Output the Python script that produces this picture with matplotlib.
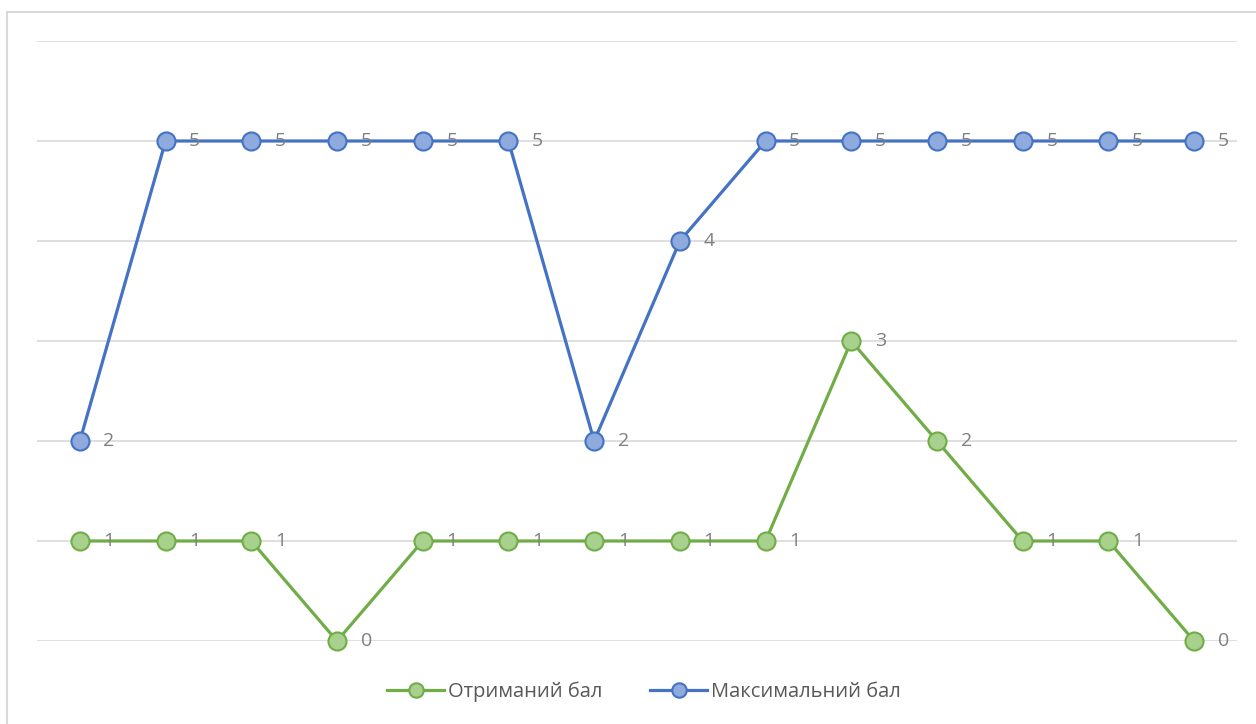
import matplotlib.pyplot as plt
from matplotlib.patches import Rectangle

W, H = 1256, 724

received = [1, 1, 1, 0, 1, 1, 1, 1, 1, 3, 2, 1, 1, 0]
maximum = [2, 5, 5, 5, 5, 5, 2, 4, 5, 5, 5, 5, 5, 5]
x = list(range(len(received)))

plt.rcParams['font.family'] = ['Open Sans', 'DejaVu Sans']

fig = plt.figure(figsize=(W / 100, H / 100), dpi=100)
ax = fig.add_axes([37 / W, (H - 641) / H, 1200 / W, 600 / H])

# outer chart frame (Excel-style)
fig.patches.append(Rectangle((7 / W, -0.05), 1.1, (H - 12) / H + 0.05,
                             transform=fig.transFigure, fill=False,
                             edgecolor='#d9d9d9', linewidth=1.5))

for v in range(0, 7):
    ax.axhline(v, color='#d9d9d9', linewidth=1.2, zorder=0)

ax.plot(x, received, color='#70ad47', linewidth=2.3, marker='o', markersize=13,
        markerfacecolor='#a9d18e', markeredgecolor='#70ad47', markeredgewidth=1.5,
        label='Отриманий бал', zorder=3, clip_on=False)
ax.plot(x, maximum, color='#4472c4', linewidth=2.3, marker='o', markersize=13,
        markerfacecolor='#8faadc', markeredgecolor='#4472c4', markeredgewidth=1.5,
        label='Максимальний бал', zorder=3, clip_on=False)

for xi, v in zip(x, received):
    ax.annotate(str(v), (xi, v), xytext=(17, 0), textcoords='offset points',
                va='center', ha='left', fontsize=14, color='#7f7f7f', zorder=4)
for xi, v in zip(x, maximum):
    ax.annotate(str(v), (xi, v), xytext=(17, 0), textcoords='offset points',
                va='center', ha='left', fontsize=14, color='#7f7f7f', zorder=4)

ax.set_xlim(-0.5, len(x) - 0.5)
ax.set_ylim(0, 6)
ax.set_xticks([])
ax.set_yticks([])
for s in ax.spines.values():
    s.set_visible(False)
ax.patch.set_alpha(0)

fig.legend(loc='center', bbox_to_anchor=(644 / W, (H - 692) / H), ncol=2,
           frameon=False, fontsize=14.5, labelcolor='#595959', markerscale=0.8,
           handlelength=2.8, columnspacing=2.4, handletextpad=0.2)

fig.savefig('out.png', dpi=100)
